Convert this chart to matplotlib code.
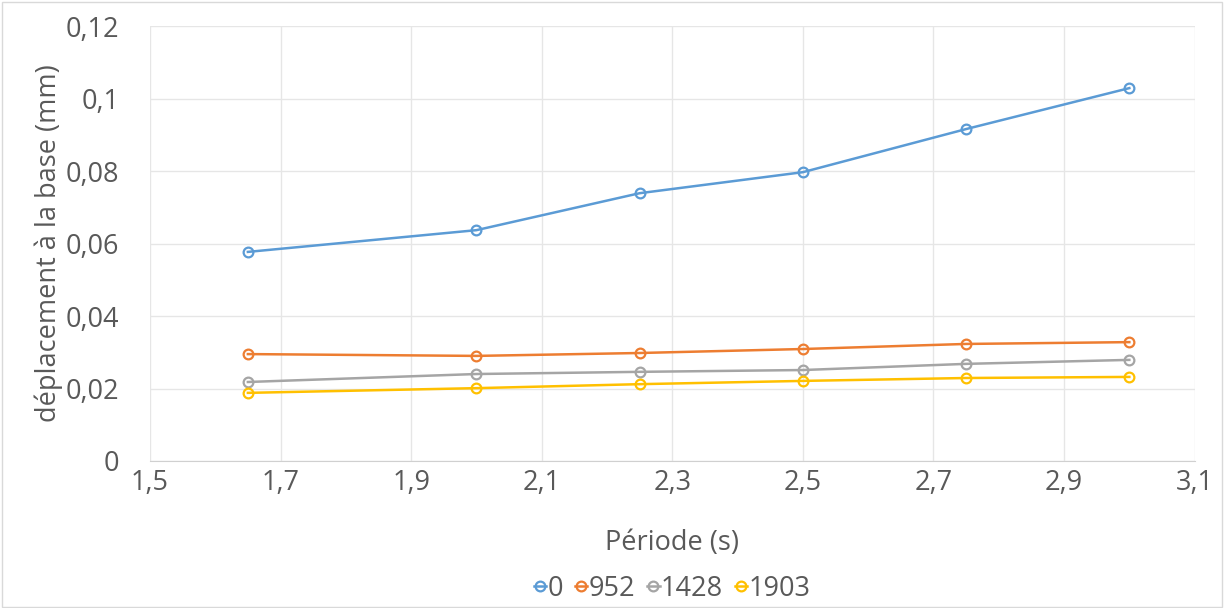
import numpy as np
import matplotlib.pyplot as plt
from matplotlib.ticker import FuncFormatter, FixedLocator, MultipleLocator

plt.rcParams['font.family'] = ['Open Sans', 'DejaVu Sans']

periode = [1.65, 2.0, 2.25, 2.5, 2.75, 3.0]
d_0 = [0.0577, 0.0637, 0.0739, 0.0797, 0.0916, 0.1029]
d_952 = [0.0295, 0.0290, 0.0298, 0.0309, 0.0323, 0.0328]
d_1428 = [0.0218, 0.0240, 0.0246, 0.0251, 0.0268, 0.0279]
d_1903 = [0.0188, 0.0201, 0.0212, 0.0221, 0.0229, 0.0232]
labels = ['0', '952', '1428', '1903']
colors = ['#5B9BD5', '#ED7D31', '#A5A5A5', '#FFC000']
xticks = [1.5, 1.7, 1.9, 2.1, 2.3, 2.5, 2.7, 2.9, 3.1]

fig = plt.figure(figsize=(12.24, 6.08), dpi=100)
ax = fig.add_axes([0.1225, 0.2418, 0.8535, 0.7152])

for y, lab, c in zip([d_0, d_952, d_1428, d_1903], labels, colors):
    ax.plot(periode, y, color=c, lw=1.8, marker='o', ms=7, mfc='none',
            mew=1.6, label=lab)

ax.set_xlim(1.5, 3.1)
ax.set_ylim(0, 0.12)
ax.xaxis.set_major_locator(FixedLocator(xticks))
ax.yaxis.set_major_locator(MultipleLocator(0.02))

# virgule décimale
def virgule(v, pos):
    s = ('%.2f' % v).rstrip('0').rstrip('.')
    return s.replace('.', ',')

ax.xaxis.set_major_formatter(FuncFormatter(virgule))
ax.yaxis.set_major_formatter(FuncFormatter(virgule))

ax.grid(True, color='#E6E6E6', lw=1)
ax.set_axisbelow(True)
for s in ['top', 'right', 'left']:
    ax.spines[s].set_visible(False)
ax.spines['bottom'].set_color('#D0D0D0')
ax.tick_params(length=0, labelsize=19.5, colors='#595959')
ax.tick_params(axis='x', pad=6)
ax.tick_params(axis='y', pad=22)

ax.set_xlabel('Période (s)', fontsize=19.5, color='#595959', labelpad=23)
ax.set_ylabel('déplacement à la base (mm)', fontsize=19.5, color='#595959', labelpad=2)

ax.legend(loc='upper center', bbox_to_anchor=(0.5, -0.205), ncol=4, frameon=False,
          fontsize=19.5, labelcolor='#595959', handlelength=0.45, handletextpad=0.05,
          columnspacing=0.45)

fig.patches.append(plt.Rectangle((0.002, 0.002), 0.996, 0.995, transform=fig.transFigure,
                                 fill=False, edgecolor='#D9D9D9', lw=1))

fig.savefig('out.png', dpi=100)
